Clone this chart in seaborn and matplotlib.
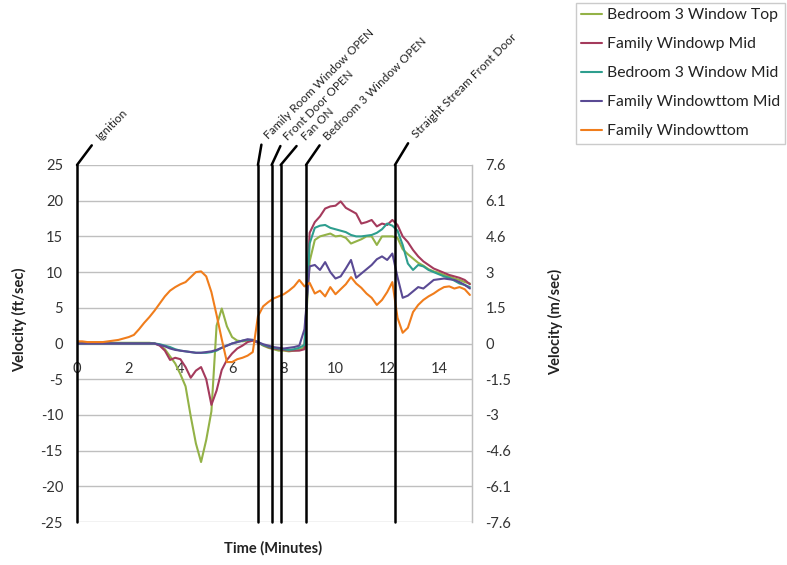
import matplotlib
matplotlib.use('Agg')
import matplotlib.pyplot as plt
from matplotlib.lines import Line2D
import seaborn as sns
import pandas as pd
import numpy as np

# --- data ---
time_min = [0.0, 0.2, 0.4, 0.6, 0.8, 1.0, 1.2, 1.4, 1.6, 1.8,
            2.0, 2.2, 2.4, 2.6, 2.8, 3.0, 3.2, 3.4, 3.6, 3.8,
            4.0, 4.2, 4.4, 4.6, 4.8, 5.0, 5.2, 5.4, 5.6, 5.8,
            6.0, 6.2, 6.4, 6.6, 6.8, 7.0, 7.2, 7.4, 7.6, 7.8,
            8.0, 8.2, 8.4, 8.6, 8.8, 9.0, 9.2, 9.4, 9.6, 9.8,
            10.0, 10.2, 10.4, 10.6, 10.8, 11.0, 11.2, 11.4, 11.6, 11.8,
            12.0, 12.2, 12.4, 12.6, 12.8, 13.0, 13.2, 13.4, 13.6, 13.8,
            14.0, 14.2, 14.4, 14.6, 14.8, 15.0, 15.2]

bed3_top = [0.1, 0.1, 0.1, 0.1, 0.1, 0.1, 0.1, 0.1, 0.1, 0.1,
            0.1, 0.1, 0.1, 0.1, 0.1, 0.0, -0.2, -0.8, -1.8, -2.8,
            -4.3, -6.0, -10.2, -14.0, -16.6, -13.5, -9.5, 2.5, 4.9, 2.4,
            0.9, 0.4, 0.3, 0.4, 0.5, 0.2, -0.3, -0.6, -0.8, -1.0,
            -1.0, -1.1, -1.0, -0.9, -0.5, 11.5, 14.5, 15.0, 15.2, 15.4,
            15.0, 15.1, 14.8, 14.0, 14.3, 14.6, 15.0, 15.0, 13.8, 15.0,
            15.0, 15.0, 14.8, 13.2, 12.5, 11.9, 11.3, 10.9, 10.4, 10.1,
            9.9, 9.6, 9.4, 9.1, 8.9, 8.6, 8.4]

fam_mid = [0.0, 0.0, 0.0, 0.0, 0.0, 0.0, 0.0, 0.0, 0.0, 0.0,
           0.0, 0.0, 0.0, 0.0, 0.0, 0.0, -0.3, -1.0, -2.3, -2.0,
           -2.2, -3.3, -4.8, -3.8, -3.3, -5.0, -8.6, -6.6, -3.7, -2.3,
           -1.4, -0.7, -0.3, 0.2, 0.4, 0.1, -0.2, -0.5, -0.7, -0.8,
           -0.9, -1.0, -1.0, -1.0, -0.8, 15.5, 17.0, 17.8, 18.9, 19.2,
           19.3, 19.9, 19.0, 18.6, 18.2, 16.8, 17.0, 17.3, 16.4, 16.8,
           16.6, 17.3, 16.6, 15.0, 14.2, 13.1, 12.2, 11.5, 11.0, 10.5,
           10.2, 9.9, 9.6, 9.4, 9.2, 8.9, 8.3]

bed3_mid = [0.0, 0.0, 0.0, 0.0, 0.0, 0.0, 0.0, 0.0, 0.0, 0.0,
            0.0, 0.0, 0.0, 0.0, 0.0, 0.0, -0.1, -0.3, -0.5, -0.8,
            -1.0, -1.1, -1.2, -1.3, -1.3, -1.3, -1.2, -1.0, -0.6, -0.3,
            0.0, 0.2, 0.4, 0.5, 0.5, 0.2, -0.2, -0.4, -0.6, -0.7,
            -0.8, -0.9, -0.8, -0.6, -0.2, 14.0, 16.2, 16.5, 16.6, 16.2,
            16.0, 15.8, 15.6, 15.2, 15.0, 15.0, 15.1, 15.2, 15.5, 16.0,
            16.8, 16.5, 15.8, 13.8, 11.2, 10.3, 11.0, 10.8, 10.3, 10.0,
            9.7, 9.4, 9.2, 8.8, 8.4, 8.2, 7.9]

fam_bot_mid = [0.0, 0.0, 0.0, 0.0, 0.0, 0.0, 0.0, 0.0, 0.0, 0.0,
               0.0, 0.0, 0.0, 0.0, 0.0, 0.0, -0.2, -0.4, -0.7, -0.9,
               -1.0, -1.1, -1.2, -1.3, -1.3, -1.2, -1.1, -0.9, -0.6, -0.3,
               0.0, 0.2, 0.4, 0.6, 0.5, 0.2, -0.1, -0.3, -0.5, -0.6,
               -0.7, -0.6, -0.5, -0.3, 2.0, 10.8, 11.0, 10.3, 11.4, 10.0,
               9.1, 9.4, 10.5, 11.7, 9.2, 9.8, 10.4, 11.0, 11.8, 12.2,
               11.7, 12.6, 9.3, 6.4, 6.7, 7.3, 7.9, 7.7, 8.3, 8.9,
               9.0, 9.1, 9.0, 8.9, 8.6, 8.2, 7.7]

fam_bot = [0.3, 0.3, 0.2, 0.2, 0.2, 0.2, 0.3, 0.4, 0.5, 0.7,
           0.9, 1.2, 2.0, 2.9, 3.7, 4.6, 5.6, 6.6, 7.4, 7.9,
           8.3, 8.6, 9.3, 10.0, 10.1, 9.4, 7.2, 4.0, 0.6, -2.6,
           -2.6, -2.2, -2.0, -1.7, -1.2, 3.8, 5.2, 5.8, 6.3, 6.6,
           6.9, 7.4, 8.0, 8.9, 8.0, 8.5, 7.0, 7.4, 6.6, 7.9,
           6.9, 7.6, 8.3, 9.3, 8.4, 7.8, 7.0, 6.4, 5.4, 6.1,
           7.2, 8.6, 3.6, 1.5, 2.2, 4.4, 5.4, 6.1, 6.6, 7.0,
           7.5, 7.9, 8.0, 7.7, 7.9, 7.6, 6.8]

series_names = ['Bedroom 3 Window Top', 'Family Windowp Mid', 'Bedroom 3 Window Mid',
                'Family Windowttom Mid', 'Family Windowttom']
series_values = [bed3_top, fam_mid, bed3_mid, fam_bot_mid, fam_bot]
series_colors = ['#93B247', '#A43A5C', '#2E9E8E', '#5A4A94', '#F07D1C']

event_times = [0.0, 7.0, 7.53, 7.88, 8.86, 12.3]
event_labels = ['Ignition', 'Family Room Window OPEN', 'Front Door OPEN', 'Fan ON',
                'Bedroom 3 Window OPEN', 'Straight Stream Front Door']
# leader offsets in points (dx, dy)
leader_offsets = [(18, 16.5), (8.5, 17), (13, 16), (19, 16), (17, 16.5), (16.5, 18)]

ft_ticks = [-25, -20, -15, -10, -5, 0, 5, 10, 15, 20, 25]
ms_labels = ['-7.6', '-6.1', '-4.6', '-3', '-1.5', '0', '1.5', '3', '4.6', '6.1', '7.6']
x_ticks = [0, 2, 4, 6, 8, 10, 12, 14]

# long table for seaborn
df = pd.concat([pd.DataFrame({'Time': time_min, 'Velocity': v, 'Sensor': n})
                for n, v in zip(series_names, series_values)], ignore_index=True)

sns.set_style('white')
plt.rcParams['font.family'] = ['Lato', 'DejaVu Sans']

fig = plt.figure(figsize=(7.87, 5.65), dpi=100)
ax = fig.add_axes([77 / 787, 43 / 565, (471.7 - 77) / 787, (522 - 165) / 565])

for y in ft_ticks:
    ax.axhline(y, color='#BFBFBF', lw=1, zorder=0)

sns.lineplot(data=df, x='Time', y='Velocity', hue='Sensor', hue_order=series_names,
             palette=series_colors, lw=1.5, legend=False, ax=ax, sort=False)

ax.set_xlim(0, 15.27)
ax.set_ylim(-25, 25)
ax.set_yticks(ft_ticks)
ax.set_yticklabels([str(t) for t in ft_ticks])
ax.set_xticks(x_ticks)
ax.set_xticklabels([str(t) for t in x_ticks])
ax.tick_params(axis='y', length=0, pad=10, labelsize=10.5, colors='#333333')
ax.tick_params(axis='x', length=0, pad=13, labelsize=10.5, colors='#333333')
ax.set_xlabel('')
ax.set_ylabel('')
for s in ['top', 'bottom', 'left']:
    ax.spines[s].set_visible(False)
ax.spines['right'].set_color('#BFBFBF')
ax.spines['right'].set_linewidth(1)
ax.spines['bottom'].set_position(('data', 0))

ax2 = ax.twinx()
ax2.set_ylim(-25 * 0.3048, 25 * 0.3048)
ax2.set_yticks(np.array(ft_ticks) * 0.3048)
ax2.set_yticklabels(ms_labels)
ax2.tick_params(axis='y', length=0, pad=10, labelsize=10.5, colors='#333333')
for s in ['top', 'bottom', 'left']:
    ax2.spines[s].set_visible(False)
ax2.spines['right'].set_color('#BFBFBF')

# event markers
for t, lab, (dx, dy) in zip(event_times, event_labels, leader_offsets):
    ax.axvline(t, color='black', lw=1.8, zorder=5, clip_on=False)
    ax.annotate(lab, xy=(t, 25), xycoords='data', xytext=(dx, dy), textcoords='offset points',
                rotation=45, rotation_mode='anchor', ha='left', va='bottom', fontsize=8.5,
                color='#222222', annotation_clip=False,
                arrowprops=dict(arrowstyle='-', color='black', lw=1.8, shrinkA=0, shrinkB=0,
                                relpos=(0, 0)))

fig.text(20 / 787, 1 - 320 / 565, 'Velocity (ft/sec)', rotation=90, ha='center', va='center',
         fontsize=10.5, fontweight='bold', color='#222222')
fig.text(556 / 787, 1 - 322 / 565, 'Velocity (m/sec)', rotation=90, ha='center', va='center',
         fontsize=10.5, fontweight='bold', color='#222222')
fig.text(273 / 787, 1 - 548 / 565, 'Time (Minutes)', ha='center', va='center',
         fontsize=10.5, fontweight='bold', color='#222222')

handles = [Line2D([], [], color=c, lw=1.5) for c in series_colors]
leg = fig.legend(handles, series_names, loc='upper left', bbox_to_anchor=(576 / 787, 1 - 3 / 565),
                 frameon=True, fancybox=False, edgecolor='#BFBFBF', fontsize=11.3,
                 handlelength=1.3, handletextpad=0.3, labelspacing=0.95, borderpad=0.35,
                 borderaxespad=0)
leg.get_frame().set_linewidth(1)
for txt in leg.get_texts():
    txt.set_color('#222222')

fig.savefig('out.png', dpi=100)
